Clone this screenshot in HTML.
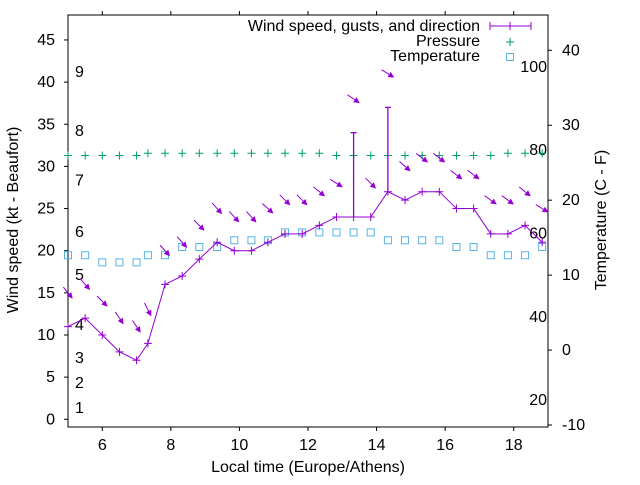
<!DOCTYPE html>
<html><head><meta charset="utf-8"><style>
body{margin:0;background:#fff}
svg text{font-family:"Liberation Sans",sans-serif;font-size:16px;fill:#000}
</style></head><body>
<svg id="c" width="640" height="480" xmlns="http://www.w3.org/2000/svg"></svg>
<script>
const times=[5.0,5.5,6.0,6.5,7.0,7.33,7.83,8.33,8.83,9.35,9.85,10.35,10.83,11.33,11.83,12.33,12.83,13.33,13.83,14.33,14.83,15.33,15.83,16.33,16.83,17.33,17.83,18.33,18.83];
const wind=[11,12,10,8,7,9,16,17,19,21,20,20,21,22,22,23,24,24,24,27,26,27,27,25,25,22,22,23,21];
const gusts=[null,null,null,null,null,null,null,null,null,null,null,null,null,null,null,null,null,34,null,37,null,null,null,null,null,null,null,null,null];
const dirs=[321,318,315,326,326,333,318,318,315,318,318,318,312,315,315,310,302,304,315,302,312,307,307,307,307,306,306,309,302];
const pressure=[31.3,31.3,31.3,31.3,31.3,31.56,31.56,31.56,31.56,31.56,31.56,31.56,31.56,31.56,31.56,31.56,31.3,31.3,31.3,31.3,31.3,31.3,31.3,31.3,31.3,31.3,31.56,31.56,31.56];
const temps=[12.65,12.65,11.7,11.7,11.7,12.65,12.65,13.75,13.75,13.75,14.65,14.65,14.65,15.7,15.7,15.7,15.7,15.7,15.7,14.65,14.65,14.65,14.65,13.75,13.75,12.65,12.65,12.65,13.75];
const xTicks=[6,8,10,12,14,16,18];
const yTicks=[0,5,10,15,20,25,30,35,40,45];
const y2Ticks=[-10,0,10,20,30,40];
const beaufortLabels=["1","2","3","4","5","6","7","8","9"];
const beaufortPos=[1.34,4.3,7.3,11.2,17.1,22.2,28.3,34.2,41.2];
const fLabels=[20,40,60,80,100];

const L=68,R=548,T=15,B=427;
const X=t=>L+(t-5)*(R-L)/14;
const Y=v=>419.3-v*8.43;
const Y2=c=>425-(c+10)*7.494;
const svg=document.getElementById('c');
const NS='http://www.w3.org/2000/svg';
function mk(tag,at,name,txt){const e=document.createElementNS(NS,tag);for(const k in at)e.setAttribute(k,at[k]);


if(txt!==undefined)e.textContent=txt;svg.appendChild(e);return e;}
const VI='#9400d3',GR='#009e73',BL='#56b4e9';
mk('rect',{x:L,y:T,width:R-L,height:B-T,fill:'none',stroke:'#000','stroke-width':1},'plot-frame');
xTicks.forEach(t=>{const x=X(t);
mk('line',{x1:x,y1:B,x2:x,y2:B+4,stroke:'#000'},'x-tick');
mk('line',{x1:x,y1:T,x2:x,y2:T-4,stroke:'#000'},'x-top-tick');
mk('text',{x:x,y:450,'text-anchor':'middle'},'x-tick-label',t);});
yTicks.forEach(v=>{const y=Y(v);
mk('line',{x1:L,y1:y,x2:L-4,y2:y,stroke:'#000'},'y-tick');
mk('text',{x:55,y:y+5,'text-anchor':'end'},'y-tick-label',v);});
y2Ticks.forEach(v=>{const y=Y2(v);
mk('line',{x1:R,y1:y,x2:R+4,y2:y,stroke:'#000'},'y2-tick');
mk('text',{x:562,y:y+5},'y2-tick-label',v);});
beaufortLabels.forEach((s,i)=>mk('text',{x:75,y:Y(beaufortPos[i])+5},'beaufort-label',s));
fLabels.forEach(f=>mk('text',{x:547,y:Y2((f-32)*5/9)+5,'text-anchor':'end'},'fahrenheit-label',f));
mk('text',{x:308,y:472,'text-anchor':'middle'},'x-axis-title','Local time (Europe/Athens)');
mk('text',{x:0,y:0,'text-anchor':'middle',transform:'translate(18,220) rotate(-90)'},'y-axis-title','Wind speed (kt - Beaufort)');
mk('text',{x:0,y:0,'text-anchor':'middle',transform:'translate(606,220) rotate(-90)'},'y2-axis-title','Temperature (C - F)');
function plus(x,y,c,n,s){mk('path',{d:`M${x-s},${y}H${x+s}M${x},${y-s}V${y+s}`,stroke:c,'stroke-width':1},n);}
times.forEach((t,i)=>plus(X(t),Y(pressure[i]),GR,'pressure-point',4));
times.forEach((t,i)=>mk('rect',{x:X(t)-3.5,y:Y2(temps[i])-3.5,width:7,height:7,fill:'none',stroke:BL,'stroke-width':1},'temperature-point'));
mk('polyline',{points:times.map((t,i)=>X(t)+','+Y(wind[i])).join(' '),fill:'none',stroke:VI,'stroke-width':1},'wind-line');
times.forEach((t,i)=>{plus(X(t),Y(wind[i]),VI,'wind-point',4);
if(gusts[i]!=null){const x=X(t);
mk('path',{d:`M${x},${Y(wind[i])}V${Y(gusts[i])}M${x-3},${Y(gusts[i])}H${x+3}`,stroke:VI,'stroke-width':1.3},'gust-bar');}});
times.forEach((t,i)=>{const top=Math.max(wind[i],gusts[i]||0)+4;
const cx=X(t),cy=Y(top);const to=(dirs[i]+180)*Math.PI/180;
const ux=Math.sin(to),uy=-Math.cos(to),len=15;
const x1=cx-ux*len/2,y1=cy-uy*len/2,x2=cx+ux*len/2,y2=cy+uy*len/2;
const px=-uy,py=ux,h=6,w=3;
mk('line',{x1:x1,y1:y1,x2:x2-ux*h,y2:y2-uy*h,stroke:VI,'stroke-width':1},'direction-arrow-shaft');
mk('polygon',{points:`${x2},${y2} ${x2-ux*h+px*w},${y2-uy*h+py*w} ${x2-ux*h-px*w},${y2-uy*h-py*w}`,fill:VI},'direction-arrow-head');});
mk('text',{x:480,y:31,'text-anchor':'end'},'legend-wind-label','Wind speed, gusts, and direction');
mk('path',{d:'M490,26H531M490,22V30M531,22V30',stroke:VI},'legend-wind-sample');
plus(510,26,VI,'legend-wind-point',4);
mk('text',{x:480,y:46,'text-anchor':'end'},'legend-pressure-label','Pressure');
plus(510,42,GR,'legend-pressure-sample',4);
mk('text',{x:480,y:61,'text-anchor':'end'},'legend-temperature-label','Temperature');
mk('rect',{x:506.5,y:53.5,width:7,height:7,fill:'none',stroke:BL},'legend-temperature-sample');
</script>
</body></html>
